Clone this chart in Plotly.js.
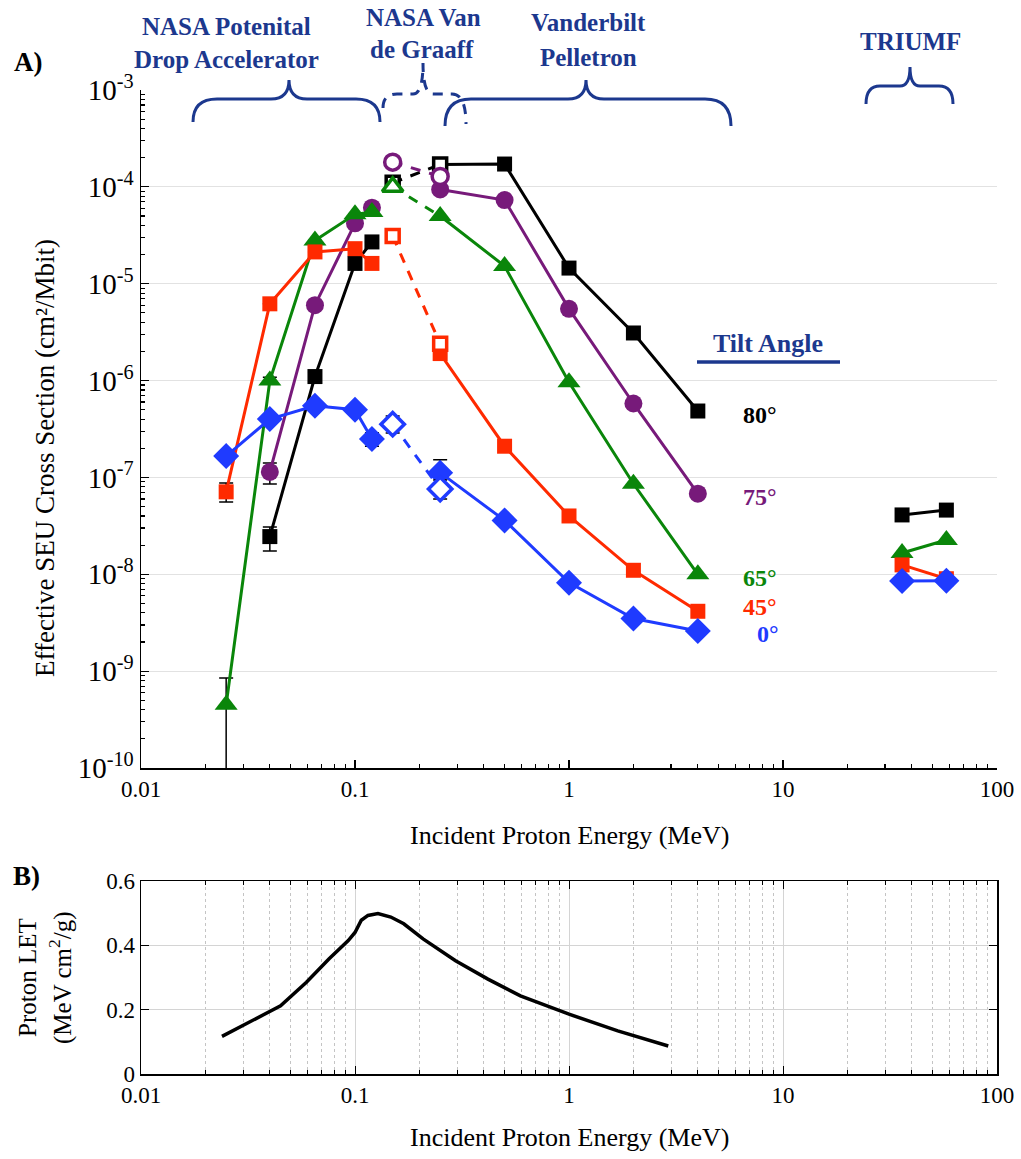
<!DOCTYPE html>
<html>
<head>
<meta charset="utf-8">
<script src="https://cdn.plot.ly/plotly-3.0.1.min.js"></script>
<style>html,body{margin:0;padding:0;background:#fff;}#plot{width:1021px;height:1159px;}</style>
</head>
<body>
<div id="plot"></div>
<script>
// ---------- DATA ----------
const E_PD  = [0.025, 0.04, 0.065, 0.1, 0.12];   // NASA potential drop
const E_VDG = [0.15, 0.25];                      // NASA Van de Graaff
const E_VU  = [0.25, 0.5, 1, 2, 4];              // Vanderbilt Pelletron
const E_TR  = [36, 58];                          // TRIUMF

const s80_PD  = [null, 2.45e-8, 1.1e-6, 1.62e-5, 2.7e-5];
const s80_VDG = [1.1e-4, 1.7e-4];
const s80_VU  = [1.7e-4, 1.72e-4, 1.45e-5, 3.1e-6, 4.85e-7];
const s80_TR  = [4.1e-8, 4.6e-8];

const s75_PD  = [null, 1.14e-7, 6.0e-6, 4.2e-5, 6.1e-5];
const s75_VDG = [1.8e-4, 1.28e-4];
const s75_VU  = [9.4e-5, 7.3e-5, 5.5e-6, 5.8e-7, 6.8e-8];
const s75_TR  = [null, null];

const s65_PD  = [4.5e-10, 1.0e-6, 2.8e-5, 5.2e-5, 5.5e-5];
const s65_VDG = [1.0e-4, null];
const s65_VU  = [5.0e-5, 1.52e-5, 9.6e-7, 8.6e-8, 1.0e-8];
const s65_TR  = [1.66e-8, 2.26e-8];

const s45_PD  = [7.1e-8, 6.2e-6, 2.13e-5, 2.3e-5, 1.62e-5];
const s45_VDG = [3.1e-5, 2.4e-6];
const s45_VU  = [1.9e-6, 2.1e-7, 4.0e-8, 1.1e-8, 4.15e-9];
const s45_TR  = [1.25e-8, 9.0e-9];

const s0_PD  = [1.66e-7, 4.0e-7, 5.5e-7, 5.0e-7, 2.5e-7];
const s0_VDG = [3.55e-7, 7.6e-8];
const s0_VU  = [1.12e-7, 3.6e-8, 8.2e-9, 3.5e-9, 2.6e-9];
const s0_TR  = [8.5e-9, 8.6e-9];

// error bars (plus / minus)
const e80_PD_up = [0, 0.63e-8, 0.12e-6, 0, 0],   e80_PD_dn = [0, 0.71e-8, 0.12e-6, 0, 0];
const e75_PD_up = [0, 2.7e-8, 0, 0, 0],          e75_PD_dn = [0, 2.85e-8, 0, 0, 0];
const e65_PD_up = [4.0e-10, 0.08e-6, 0, 0, 0],   e65_PD_dn = [4.49e-10, 0.08e-6, 0, 0, 0];
const e45_PD_up = [1.67e-8, 0, 0, 0, 0],         e45_PD_dn = [1.53e-8, 0, 0, 0, 0];
const e0_PD_up  = [0, 0, 0, 0.4e-7, 0.4e-7],     e0_PD_dn  = [0, 0, 0, 0.4e-7, 0.4e-7];
const e80_VDG = [0.1e-4, 0.1e-4];
const e75_VDG = [0.1e-4, 0.1e-4];
const e65_VDG = [0.08e-4, 0];
const e45_VDG = [0.2e-5, 0.25e-6];
const e0_VDG_up = [0.75e-7, 1.8e-8], e0_VDG_dn = [0.67e-7, 1.6e-8];
const e0_VU_up = [0.4e-7, 0.3e-8, 0.5e-9, 0.3e-9, 0], e0_VU_dn = [0.25e-7, 0.3e-8, 0.5e-9, 0.3e-9, 0];

// Proton LET curve
const E_LET = [0.0239, 0.0339, 0.0449, 0.0593, 0.0757, 0.093, 0.1, 0.107, 0.115, 0.128, 0.147, 0.169, 0.208, 0.295, 0.418, 0.593, 1.0, 1.69, 2.91];
const LET   = [0.117, 0.17, 0.212, 0.285, 0.358, 0.415, 0.44, 0.478, 0.493, 0.499, 0.488, 0.467, 0.42, 0.352, 0.295, 0.243, 0.186, 0.134, 0.087];

const angleLabels = ['80°', '75°', '65°', '45°', '0°'];
const xTickVals = [0.01, 0.1, 1, 10, 100];
const xTickText = ['0.01', '0.1', '1', '10', '100'];
const yTickExp = [-10, -9, -8, -7, -6, -5, -4, -3];
const letTicks = [0, 0.2, 0.4, 0.6];

// ---------- STYLE ----------
const COL = {k:'#000000', p:'#771a7a', g:'#0a860a', r:'#ff2a00', b:'#1f3bff'};
const NAVY = '#1c388e';
const FONT = 'Liberation Serif';

const sets = [
  {c:COL.k, sym:'square',      sz:15, pd:s80_PD, pu:e80_PD_up, pdn:e80_PD_dn, vdg:s80_VDG, vu_e:e80_VDG, vd_e:e80_VDG, vu:s80_VU, tr:s80_TR},
  {c:COL.p, sym:'circle',      sz:18, pd:s75_PD, pu:e75_PD_up, pdn:e75_PD_dn, vdg:s75_VDG, vu_e:e75_VDG, vd_e:e75_VDG, vu:s75_VU, tr:s75_TR},
  {c:COL.g, sym:'triangle-up', sz:20, pd:s65_PD, pu:e65_PD_up, pdn:e65_PD_dn, vdg:s65_VDG, vu_e:e65_VDG, vd_e:e65_VDG, vu:s65_VU, tr:s65_TR},
  {c:COL.r, sym:'square',      sz:15, pd:s45_PD, pu:e45_PD_up, pdn:e45_PD_dn, vdg:s45_VDG, vu_e:e45_VDG, vd_e:e45_VDG, vu:s45_VU, tr:s45_TR},
  {c:COL.b, sym:'diamond',     sz:20, pd:s0_PD,  pu:e0_PD_up,  pdn:e0_PD_dn,  vdg:s0_VDG,  vu_e:e0_VDG_up, vd_e:e0_VDG_dn, vu:s0_VU, tr:s0_TR, vuErrUp:e0_VU_up, vuErrDn:e0_VU_dn}
];

const errStyle = (up, dn) => ({type:'data', symmetric:false, array:up, arrayminus:dn, color:'#000', thickness:1.5, width:7, visible:true});

const traces = [];
sets.forEach(s => {
  const mk = {symbol:s.sym, size:s.sz, color:s.c, line:{width:0}};
  traces.push({x:E_PD, y:s.pd, mode:'lines+markers', line:{color:s.c, width:3}, marker:mk,
               error_y:errStyle(s.pu, s.pdn), xaxis:'x', yaxis:'y', showlegend:false, hoverinfo:'skip'});
  const vuErr = s.vuErrUp ? errStyle(s.vuErrUp, s.vuErrDn) : {visible:false};
  traces.push({x:E_VU, y:s.vu, mode:'lines+markers', line:{color:s.c, width:3}, marker:mk,
               error_y:vuErr, xaxis:'x', yaxis:'y', showlegend:false, hoverinfo:'skip'});
  if (s.tr.some(v => v !== null)) {
    traces.push({x:E_TR, y:s.tr, mode:'lines+markers', line:{color:s.c, width:3}, marker:mk,
                 xaxis:'x', yaxis:'y', showlegend:false, hoverinfo:'skip'});
  }
});
sets.forEach(s => {
  const yEnd = (s.vdg[1] !== null) ? s.vdg[1] : s.vu[0];
  traces.push({x:E_VDG, y:[s.vdg[0], yEnd], mode:'lines', line:{color:s.c, width:3, dash:'10px,9px'},
               xaxis:'x', yaxis:'y', showlegend:false, hoverinfo:'skip'});
});
sets.forEach(s => {
  const xs = [], ys = [], eu = [], ed = [];
  s.vdg.forEach((v, i) => { if (v !== null) { xs.push(E_VDG[i]); ys.push(v); eu.push(s.vu_e[i]); ed.push(s.vd_e[i]); } });
  traces.push({x:xs, y:ys, mode:'markers',
               marker:{symbol:s.sym, size:s.sz - 2, color:'#ffffff', line:{color:s.c, width:3.5}},
               error_y:errStyle(eu, ed), xaxis:'x', yaxis:'y', showlegend:false, hoverinfo:'skip'});
});
traces.push({x:E_LET, y:LET, mode:'lines', line:{color:'#000', width:3.5}, xaxis:'x2', yaxis:'y2', showlegend:false, hoverinfo:'skip'});

// ---------- GEOMETRY (pixel -> paper) ----------
const PL = 141, PR = 997, PT = 90, PB = 1074;
const px = x => (x - PL) / (PR - PL);
const py = y => (PB - y) / (PB - PT);

function logMinor(e0, e1) { const v = []; for (let e = e0; e < e1; e++) for (let k = 2; k <= 9; k++) v.push(k * Math.pow(10, e)); return v; }

function ann(text, x, y, size, color, opts) {
  return Object.assign({text:text, x:px(x), y:py(y), xref:'paper', yref:'paper', showarrow:false,
    xanchor:'center', yanchor:'middle', font:{family:FONT, size:size, color:color}}, opts || {});
}
const bold = (t) => '<b>' + t + '</b>';

const annotations = [
  ann(bold('NASA Potenital'), 226, 26, 25, NAVY),
  ann(bold('Drop Accelerator'), 226, 60, 25, NAVY),
  ann(bold('NASA Van'), 423, 18, 25, NAVY),
  ann(bold('de Graaff'), 422, 50, 25, NAVY),
  ann(bold('Vanderbilt'), 588, 23, 25, NAVY),
  ann(bold('Pelletron'), 588, 57, 25, NAVY),
  ann(bold('TRIUMF'), 910, 42, 25, NAVY),
  ann(bold('Tilt Angle'), 768, 343, 26, NAVY),
  ann(bold(angleLabels[0]), 760, 415, 24, COL.k),
  ann(bold(angleLabels[1]), 760, 497, 24, COL.p),
  ann(bold(angleLabels[2]), 760, 578, 24, COL.g),
  ann(bold(angleLabels[3]), 760, 607, 24, COL.r),
  ann(bold(angleLabels[4]), 768, 634, 24, COL.b),
  ann(bold('A)'), 28, 62, 27, '#000'),
  ann(bold('B)'), 26, 876, 27, '#000'),
  ann('Effective SEU Cross Section (cm²/Mbit)', 45, 458, 27, '#000', {textangle:-90}),
  ann('Incident Proton Energy (MeV)', 569, 836, 26, '#000'),
  ann('Incident Proton Energy (MeV)', 569, 1137, 26, '#000'),
  ann('Proton LET', 27, 978, 25, '#000', {textangle:-90}),
  ann('(MeV cm<sup>2</sup>/g)', 60, 978, 25, '#000', {textangle:-90})
];

function brace(x0, x1, xm, yEndL, yEndR, yH, yTop, r, r2) {
  const P = (x, y) => px(x).toFixed(5) + ',' + py(y).toFixed(5);
  return 'M ' + P(x0, yEndL) + ' Q ' + P(x0, yH) + ' ' + P(x0 + r, yH) +
         ' L ' + P(xm - r2, yH) + ' Q ' + P(xm, yH) + ' ' + P(xm, yTop) +
         ' Q ' + P(xm, yH) + ' ' + P(xm + r2, yH) +
         ' L ' + P(x1 - r, yH) + ' Q ' + P(x1, yH) + ' ' + P(x1, yEndR);
}
const shapes = [
  {type:'path', xref:'paper', yref:'paper', path:brace(193, 380, 289, 122, 122, 99, 80, 24, 18), line:{color:NAVY, width:3}},
  {type:'path', xref:'paper', yref:'paper', path:brace(383, 466, 423, 108, 124, 94, 63, 14, 10), line:{color:NAVY, width:3, dash:'10px,8px'}},
  {type:'path', xref:'paper', yref:'paper', path:brace(445, 731, 586, 126, 126, 99, 80, 26, 18), line:{color:NAVY, width:3}},
  {type:'path', xref:'paper', yref:'paper', path:brace(866, 953, 910, 104, 104, 86, 67, 14, 10), line:{color:NAVY, width:3}},
  {type:'line', xref:'paper', yref:'paper', x0:px(697), x1:px(840), y0:py(362), y1:py(362), line:{color:NAVY, width:3.5}}
];

const tickFont = {family:FONT, size:23, color:'#000'};
const yTickFont = {family:FONT, size:29, color:'#000'};

const layout = {
  width:1021, height:1159,
  margin:{l:PL, r:1021 - PR, t:PT, b:1159 - PB, pad:0},
  paper_bgcolor:'#fff', plot_bgcolor:'rgba(0,0,0,0)',
  showlegend:false,
  font:{family:FONT, color:'#000'},
  xaxis:{type:'log', range:[-2, 2], domain:[0, 1], anchor:'y',
         tickmode:'array', tickvals:xTickVals, ticktext:xTickText, tickfont:tickFont,
         showline:true, linecolor:'#000', linewidth:1.5, ticks:'inside', ticklen:8, tickcolor:'#000', tickwidth:1.2,
         showgrid:false, zeroline:false, mirror:false,
         minor:{tickmode:'array', tickvals:logMinor(-2, 2), ticks:'inside', ticklen:4, tickcolor:'#000', showgrid:false}},
  yaxis:{type:'log', range:[-10, -3], domain:[py(768), 1], anchor:'x',
         tickmode:'array', tickvals:yTickExp.map(e => Math.pow(10, e)), ticktext:yTickExp.map(e => '10<sup>' + e + '</sup>'),
         tickfont:yTickFont,
         showline:true, linecolor:'#000', linewidth:1.5, ticks:'inside', ticklen:8, tickcolor:'#000', tickwidth:1.2,
         showgrid:true, gridcolor:'#e2e2e2', gridwidth:1.2, zeroline:false, mirror:false,
         minor:{tickmode:'array', tickvals:logMinor(-10, -3), ticks:'inside', ticklen:4, tickcolor:'#000', showgrid:false}},
  xaxis2:{type:'log', range:[-2, 2], domain:[0, 1], anchor:'y2',
          tickmode:'array', tickvals:xTickVals, ticktext:xTickText, tickfont:tickFont,
          showline:true, linecolor:'#000', linewidth:1.5, ticks:'inside', ticklen:8, tickcolor:'#000', mirror:'allticks',
          showgrid:true, gridcolor:'#d4d4d4', gridwidth:1, zeroline:false,
          minor:{tickmode:'array', tickvals:logMinor(-2, 2), ticks:'inside', ticklen:4, tickcolor:'#000',
                 showgrid:true, griddash:'dot', gridcolor:'#c4c4c4', gridwidth:1}},
  yaxis2:{range:[0, 0.6], domain:[0, py(881)], anchor:'x2',
          tickmode:'array', tickvals:letTicks, ticktext:letTicks.map(v => String(v)), tickfont:tickFont,
          showline:true, linecolor:'#000', linewidth:1.5, ticks:'inside', ticklen:8, tickcolor:'#000', mirror:'allticks',
          showgrid:true, gridcolor:'#d4d4d4', gridwidth:1, zeroline:false},
  annotations:annotations,
  shapes:shapes
};

Plotly.newPlot('plot', traces, layout, {staticPlot:true, displayModeBar:false});
</script>
</body>
</html>
